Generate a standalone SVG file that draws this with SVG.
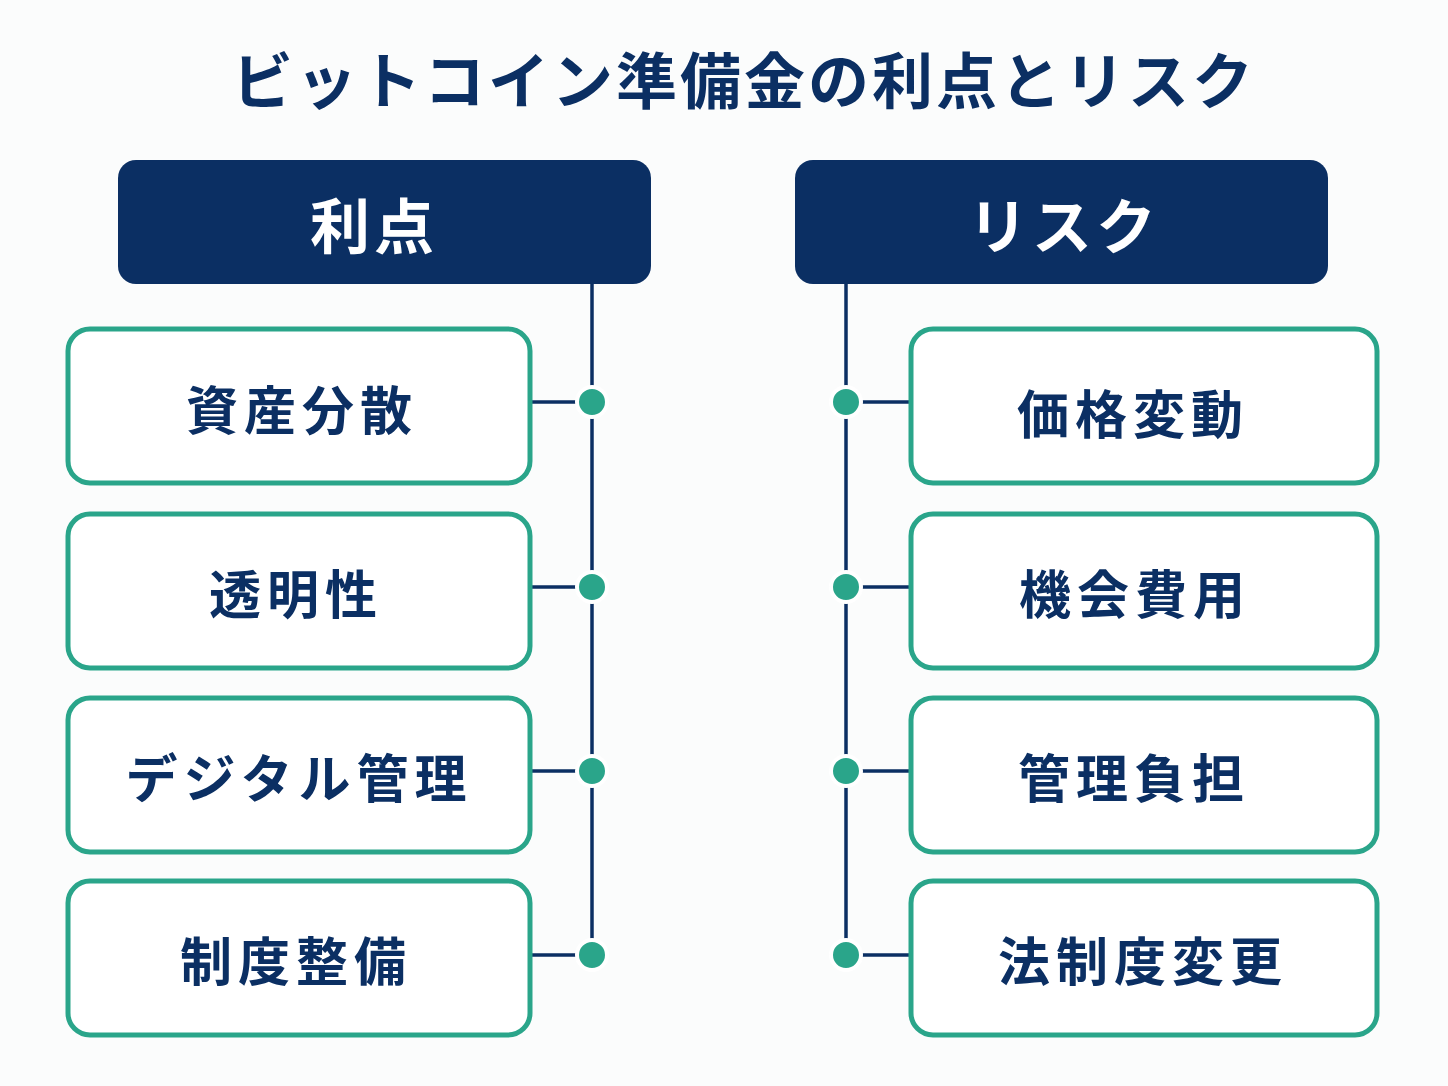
<svg xmlns="http://www.w3.org/2000/svg" width="1448" height="1086" viewBox="0 0 1448 1086">
<style>
text{font-family:"Noto Sans CJK JP","Noto Sans CJK SC",sans-serif;font-weight:700;fill:#0b2f63;text-anchor:middle;dominant-baseline:central}
.hdr{fill:#0b2f63}
.hdr-t{fill:#ffffff;font-size:60px;letter-spacing:4px}
.box{fill:#ffffff;stroke:#2aa58a;stroke-width:5}
.box-t{font-size:52px;letter-spacing:6px}
.ln{stroke:#0b2f63;stroke-width:3.5;fill:none}
.dot{fill:#2aa58a;stroke:#ffffff;stroke-width:4}
</style>
<rect width="1448" height="1086" fill="#fbfcfc"/>
<text x="744" y="77" font-size="61" letter-spacing="3">ビットコイン準備金の利点とリスク</text>
<g id="connectors">
<line class="ln" x1="592" y1="284" x2="592" y2="955"/>
<line class="ln" x1="846" y1="284" x2="846" y2="955"/>
<line class="ln" x1="532" y1="402" x2="592" y2="402"/>
<line class="ln" x1="532" y1="587" x2="592" y2="587"/>
<line class="ln" x1="532" y1="771" x2="592" y2="771"/>
<line class="ln" x1="532" y1="955" x2="592" y2="955"/>
<line class="ln" x1="846" y1="402" x2="911" y2="402"/>
<line class="ln" x1="846" y1="587" x2="911" y2="587"/>
<line class="ln" x1="846" y1="771" x2="911" y2="771"/>
<line class="ln" x1="846" y1="955" x2="911" y2="955"/>
<circle class="dot" cx="592" cy="402" r="15"/>
<circle class="dot" cx="592" cy="587" r="15"/>
<circle class="dot" cx="592" cy="771" r="15"/>
<circle class="dot" cx="592" cy="955" r="15"/>
<circle class="dot" cx="846" cy="402" r="15"/>
<circle class="dot" cx="846" cy="587" r="15"/>
<circle class="dot" cx="846" cy="771" r="15"/>
<circle class="dot" cx="846" cy="955" r="15"/>
</g>
<g id="header-left"><rect class="hdr" x="118" y="160" width="533" height="124" rx="18"/><text class="hdr-t" x="374" y="222">利点</text></g>
<g id="header-right"><rect class="hdr" x="795" y="160" width="533" height="124" rx="18"/><text class="hdr-t" x="1064" y="222">リスク</text></g>
<g id="l1"><rect class="box" x="68" y="329" width="462" height="154" rx="22"/><text class="box-t" x="302" y="407">資産分散</text></g>
<g id="l2"><rect class="box" x="68" y="514" width="462" height="154" rx="22"/><text class="box-t" x="296" y="591">透明性</text></g>
<g id="l3"><rect class="box" x="68" y="698" width="462" height="154" rx="22"/><text class="box-t" x="299" y="775">デジタル管理</text></g>
<g id="l4"><rect class="box" x="68" y="881" width="462" height="154" rx="22"/><text class="box-t" x="296" y="958">制度整備</text></g>
<g id="r1"><rect class="box" x="911" y="329" width="466" height="154" rx="22"/><text class="box-t" x="1133" y="411">価格変動</text></g>
<g id="r2"><rect class="box" x="911" y="514" width="466" height="154" rx="22"/><text class="box-t" x="1135" y="591">機会費用</text></g>
<g id="r3"><rect class="box" x="911" y="698" width="466" height="154" rx="22"/><text class="box-t" x="1134" y="775">管理負担</text></g>
<g id="r4"><rect class="box" x="911" y="881" width="466" height="154" rx="22"/><text class="box-t" x="1143" y="958">法制度変更</text></g>
</svg>
